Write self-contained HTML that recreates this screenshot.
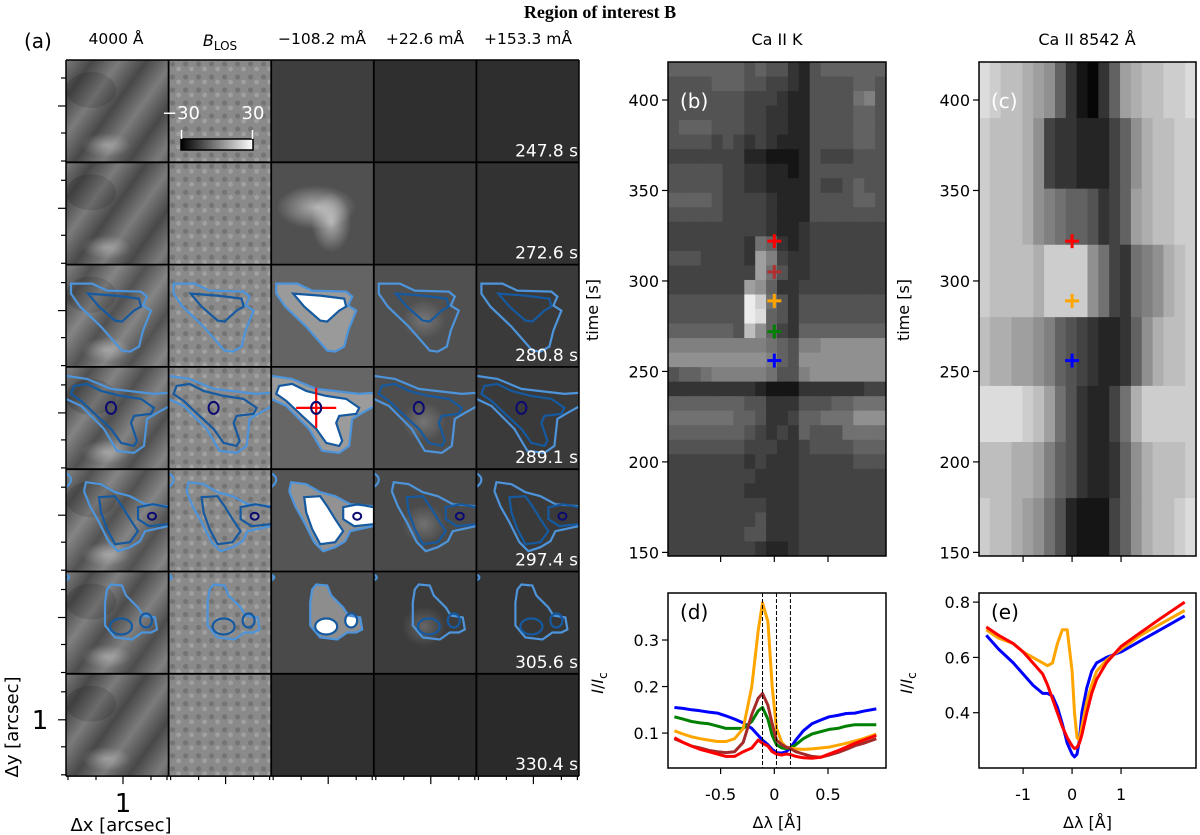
<!DOCTYPE html>
<html><head><meta charset="utf-8">
<style>
html,body{margin:0;padding:0;background:#fff;}
svg{display:block;font-family:"DejaVu Sans","Liberation Sans",sans-serif;}
</style></head>
<body>
<svg id="fig" width="1200" height="835" viewBox="0 0 1200 835" xmlns="http://www.w3.org/2000/svg">
<defs>
  <linearGradient id="gran" x1="0" y1="0" x2="0.35" y2="0.25" spreadMethod="repeat">
    <stop offset="0" stop-color="#fff" stop-opacity="0.2"/>
    <stop offset="0.5" stop-color="#000" stop-opacity="0.2"/>
    <stop offset="1" stop-color="#fff" stop-opacity="0.2"/>
  </linearGradient>
  <pattern id="speck" width="13" height="13" patternUnits="userSpaceOnUse">
    <rect width="13" height="13" fill="#8a8a8a"/>
    <circle cx="4" cy="4" r="2.6" fill="#747474"/>
    <circle cx="10" cy="9" r="2.4" fill="#a0a0a0"/>
  </pattern>
  <radialGradient id="glow" cx="0.5" cy="0.5" r="0.5">
    <stop offset="0" stop-color="#fff" stop-opacity="0.55"/>
    <stop offset="1" stop-color="#fff" stop-opacity="0"/>
  </radialGradient>
  <linearGradient id="cbar" x1="0" x2="1" y1="0" y2="0">
    <stop offset="0" stop-color="#000"/><stop offset="1" stop-color="#fff"/>
  </linearGradient>
</defs>
<text x="600" y="18" text-anchor="middle" font-family="Liberation Serif,serif" font-weight="bold" font-size="18">Region of interest B</text>
<g id="panelA"></g>
<g id="panelB"></g>
<g id="panelC"></g>
<g id="panelD"></g>
<g id="panelE"></g>
</svg>
<script>
// ---------- data ----------
const bRows = [
"66666665655325666666","55556665544325555665","55555554443225555785","55555554433225555665",
"56665554433225555665","55554543432225555665","44444442211125444555","55555443322125555555",
"55555443322225445655","66665444432225555665","55555444432225555555","44444444432234444444",
"44444443763234444444","55544443a84334444444","44444444a75334444444","4444444a963344444444",
"5555555fd75355555555","5555555fe65355555555","6666665c964366666666","88888888876588999999",
"99999999986599999999","56678888875589999999","33333333211133333344","66666665533355566777",
"77777766533466777999","66666665434365557777","55555554443345555666","44444443433344444555",
"44444444333344444444","44444443333344444444","44444444433344444444","44444444533344444444",
"44444445533344444444","44444444322344444444"];
const bTimeTop = 421, bTimeBottom = 148;
const cEdges = [421,390,351,320,280,242,211,180,148];
const cRows = ["edccba9631036abccdde","dcccb9433222469bccdd","dcccb987665346abccdd","dccccbdddd9743789bcd",
"cbbaa98654322369bccd","eeeedca7532247bddddd","cccbba865322369bcccd","dccba9752111469bccde"];
const bMarkTimes = [322,305,289,272,256];
const bMarkColors = ["red","#b03030","orange","green","blue"];
const cMarkTimes = [322,289,256];
const cMarkColors = ["red","orange","blue"];
const dX = [-0.93,-0.85,-0.77,-0.69,-0.61,-0.53,-0.45,-0.37,-0.29,-0.21,-0.15,-0.11,-0.06,-0.02,0.02,0.07,0.11,0.15,0.2,0.27,0.35,0.43,0.51,0.59,0.67,0.75,0.83,0.95];
const dBlue = [0.155,0.153,0.150,0.148,0.145,0.143,0.137,0.130,0.122,0.11,0.095,0.085,0.075,0.065,0.058,0.057,0.06,0.068,0.085,0.105,0.12,0.128,0.135,0.138,0.142,0.143,0.147,0.152];
const dGreen = [0.135,0.13,0.125,0.122,0.12,0.115,0.11,0.11,0.11,0.125,0.148,0.155,0.13,0.095,0.075,0.068,0.067,0.068,0.075,0.088,0.098,0.103,0.108,0.11,0.115,0.118,0.118,0.118];
const dOrange = [0.105,0.098,0.092,0.088,0.085,0.082,0.082,0.088,0.11,0.2,0.32,0.38,0.34,0.2,0.11,0.08,0.07,0.068,0.066,0.065,0.066,0.068,0.07,0.074,0.078,0.083,0.088,0.098];
const dBrown = [0.088,0.08,0.072,0.068,0.063,0.06,0.058,0.06,0.08,0.14,0.175,0.185,0.16,0.12,0.085,0.075,0.07,0.067,0.06,0.055,0.05,0.048,0.053,0.058,0.065,0.073,0.078,0.088];
const dRed = [0.09,0.08,0.072,0.065,0.06,0.055,0.05,0.05,0.06,0.068,0.085,0.078,0.072,0.06,0.055,0.053,0.055,0.054,0.05,0.047,0.046,0.048,0.055,0.062,0.07,0.078,0.085,0.095];
const dLines = [-0.11,0.02,0.15];
const dXTicks = [-0.5,0,0.5], dXTickLabels = ["-0.5","0","0.5"];
const dYTicks = [0.1,0.2,0.3], dYTickLabels = ["0.1","0.2","0.3"];
const eX = [-1.75,-1.5,-1.2,-1.0,-0.8,-0.6,-0.5,-0.4,-0.3,-0.2,-0.1,0,0.05,0.1,0.15,0.2,0.3,0.4,0.5,0.7,1.0,1.4,1.8,2.3];
const eBlue = [0.68,0.63,0.58,0.54,0.50,0.47,0.47,0.46,0.42,0.36,0.29,0.25,0.24,0.25,0.30,0.40,0.49,0.55,0.58,0.60,0.62,0.66,0.70,0.75];
const eOrange = [0.70,0.67,0.65,0.62,0.60,0.58,0.57,0.58,0.65,0.70,0.70,0.55,0.40,0.31,0.30,0.35,0.44,0.50,0.55,0.59,0.63,0.68,0.72,0.77];
const eRed = [0.71,0.68,0.65,0.62,0.58,0.54,0.50,0.45,0.40,0.35,0.31,0.28,0.27,0.275,0.29,0.32,0.40,0.47,0.52,0.58,0.64,0.69,0.74,0.80];
const eXTicks = [-1,0,1], eXTickLabels = ["-1","0","1"];
const eYTicks = [0.4,0.6,0.8], eYTickLabels = ["0.4","0.6","0.8"];
const timeTicks = [150,200,250,300,350,400];
const bXTicks = [-0.5,0,0.5];
const cXTicks = [-1,0,1];
const aHeaders = ["4000 Å","B","−108.2 mÅ","+22.6 mÅ","+153.3 mÅ"];
const aTimes = ["247.8 s","272.6 s","280.8 s","289.1 s","297.4 s","305.6 s","330.4 s"];

// ---------- helpers ----------
const NS="http://www.w3.org/2000/svg";
function mk(parent,tag,attrs,text){const e=document.createElementNS(NS,tag);for(const k in attrs)e.setAttribute(k,attrs[k]);if(text!==undefined)e.textContent=text;parent.appendChild(e);return e;}
function lin(d0,d1,p0,p1){return v=>p0+(v-d0)/(d1-d0)*(p1-p0);}
function grey(ch){const v=Math.round(parseInt(ch,16)*17*0.9+6);return `rgb(${v},${v},${v})`;}

// ---------- panel A ----------
const A=document.getElementById('panelA');
const ax0=66, ay0=60, cw=102.6, rh=102.3;
const colBase=[["#5a5a5a","#8a8a8a","#3e3e3e","#2f2f2f","#2e2e2e"],
["#5a5a5a","#8a8a8a","#505050","#383838","#323232"],
["#666666","#8a8a8a","#646464","#505050","#3a3a3a"],
["#646464","#8a8a8a","#666666","#4e4e4e","#3a3a3a"],
["#666666","#8a8a8a","#555555","#4a4a4a","#3a3a3a"],
["#606060","#8a8a8a","#4a4a4a","#3c3c3c","#363636"],
["#5a5a5a","#8a8a8a","#303030","#2a2a2a","#2a2a2a"]];
const outer={2:"M5,19 L26,19 L41,26 L75,27 L81,32 L77,41 L85,46 L77,66 L73,82 L64,87 L56,86 L35,62 L14,42 L5,29 Z",
3:"M0,9 L21,12 L45,22 L88,27 L102,26 M102,40 L91,46 L81,52 L78,79 L68,86 L51,84 L38,62 L15,39 L0,32",
4:"M18,22 L20,13 L35,15 L49,23 L64,27 L79,35 L102,37 M102,57 L79,62 L74,72 L64,78 L52,82 L43,73 L33,53 L24,37 L18,22 M0,4 Q10,10 0,18",
5:"M45,13 L56,14 L60,24 L72,36 L77,44 L89,46 L91,58 L85,61 L76,61 L66,68 L49,66 L39,54 L39,31 L41,18 Z M0,3 Q6,6 0,9"};
const outerFill={2:outer[2],
3:"M0,9 L21,12 L45,22 L88,27 L102,26 L102,40 L91,46 L81,52 L78,79 L68,86 L51,84 L38,62 L15,39 L0,32 Z",
4:"M18,22 L20,13 L35,15 L49,23 L64,27 L79,35 L102,37 L102,57 L79,62 L74,72 L64,78 L52,82 L43,73 L33,53 L24,37 Z",
5:outer[5]};
const inner={2:"M22,29 L49,31 L73,34 L75,42 L68,46 L56,57 L49,56 L33,42 Z",
3:"M8,19 L21,17 L35,24 L55,29 L75,32 L88,41 L85,47 L68,49 L65,56 L71,74 L68,79 L55,76 L45,62 L31,49 L15,34 L5,27 Z",
4:"M33,28 L49,27 L56,37 L64,50 L72,62 L64,73 L49,75 L41,60 L35,43 Z M102,38 L87,35 L72,38 L72,50 L83,57 L102,55",
5:"M44,55 A11,8 0 1,0 66,55 A11,8 0 1,0 44,55 Z M74,49 A6,7 0 1,0 86,49 A6,7 0 1,0 74,49 Z"};
const navy={3:[45,41,5,6],4:[86,47,4,3.5]};
for(let r=0;r<7;r++){
  for(let c=0;c<5;c++){
    const x=ax0+c*cw, y=ay0+r*rh;
    const g=mk(A,'g',{transform:`translate(${x},${y})`});
    
    
    mk(g,'rect',{x:0,y:0,width:cw,height:rh,fill:colBase[r][c]});
    if(c===0){mk(g,'rect',{x:0,y:0,width:cw,height:rh,fill:"url(#gran)"});
      mk(g,'ellipse',{cx:25,cy:30,rx:25,ry:18,fill:"#000",opacity:0.12});
      mk(g,'ellipse',{cx:40,cy:85,rx:25,ry:12,fill:"url(#glow)",opacity:0.6});}
    if(c===1) mk(g,'rect',{x:0,y:0,width:cw,height:rh,fill:"url(#speck)"});
    if(c===2 && r===1){mk(g,'ellipse',{cx:45,cy:45,rx:40,ry:22,fill:"url(#glow)"});mk(g,'ellipse',{cx:60,cy:60,rx:20,ry:30,fill:"url(#glow)"});}
    if(c===2 && r>=2 && r<=5){
      mk(g,'path',{d:outerFill[r],fill:"#cfcfcf",opacity:0.5});
      mk(g,'path',{d:inner[r],fill:"#ffffff"});
    }
    if(c===3 && r>=2 && r<=5) mk(g,'ellipse',{cx:50,cy:55,rx:22,ry:20,fill:"url(#glow)",opacity:0.4});
    if(outer[r]) mk(g,'path',{d:outer[r],fill:"none",stroke:"#4d94db","stroke-width":2.2});
    if(inner[r]) mk(g,'path',{d:inner[r],fill:"none",stroke:"#155aa0","stroke-width":2.2});
    if(navy[r]) mk(g,'ellipse',{cx:navy[r][0],cy:navy[r][1],rx:navy[r][2],ry:navy[r][3],fill:"none",stroke:"#0a0a70","stroke-width":2});
    if(r===3&&c===2){
      const cr=mk(g,'g',{});
      mk(cr,'line',{x1:25,y1:41,x2:65,y2:41,stroke:"red","stroke-width":2.2});
      mk(cr,'line',{x1:45,y1:21,x2:45,y2:61,stroke:"red","stroke-width":2.2});
      mk(cr,'ellipse',{cx:45,cy:41,rx:5,ry:6,fill:"none",stroke:"#0a0a70","stroke-width":2});
    }
  }
  const t=mk(A,'text',{x:578,y:ay0+(r+1)*rh-6,"text-anchor":"end","font-size":17,fill:"#fff"},aTimes[r]);
  
  
}
for(let c=0;c<=5;c++) mk(A,'line',{x1:ax0+c*cw,y1:ay0,x2:ax0+c*cw,y2:ay0+7*rh,stroke:"#000","stroke-width":c%5===0?1.5:1.8});
for(let r=0;r<=7;r++) mk(A,'line',{x1:ax0,y1:ay0+r*rh,x2:ax0+5*cw,y2:ay0+r*rh,stroke:"#000","stroke-width":r%7===0?1.5:1.8});
const cb=mk(A,'g',{});
mk(cb,'rect',{x:181,y:139,width:72,height:11,fill:"url(#cbar)",stroke:"#000","stroke-width":1.5});
mk(cb,'line',{x1:181.5,y1:130,x2:181.5,y2:139,stroke:"#fff","stroke-width":1.5});
mk(cb,'line',{x1:252.5,y1:130,x2:252.5,y2:139,stroke:"#fff","stroke-width":1.5});
mk(cb,'text',{x:181,y:119,"text-anchor":"middle","font-size":18,fill:"#fff"},"−30");
mk(cb,'text',{x:253,y:119,"text-anchor":"middle","font-size":18,fill:"#fff"},"30");
mk(A,'text',{x:24,y:48,"font-size":20},"(a)");
const hx=[116,220,322,425,528];
aHeaders.forEach((h,i)=>{
  let t;
  if(i===1){t=mk(A,'text',{x:hx[i],y:46,"text-anchor":"middle","font-size":16});
    mk(t,'tspan',{"font-style":"italic"},"B");mk(t,'tspan',{"font-size":12,dy:4},"LOS");}
  else t=mk(A,'text',{x:hx[i],y:44,"text-anchor":"middle","font-size":15.5},h);
  
  
});
for(let r=0;r<7;r++){const y0=ay0+r*rh;[18,46,73,101].forEach(o=>{const L=o===46?8:5;mk(A,'line',{x1:ax0-L,y1:y0+o,x2:ax0,y2:y0+o,stroke:"#000","stroke-width":1.2});});}
for(let c=0;c<5;c++){const x0=ax0+c*cw;[2,30,57,85,101].forEach(o=>{const L=o===57?8:4;mk(A,'line',{x1:x0+o,y1:ay0+7*rh,x2:x0+o,y2:ay0+7*rh+L,stroke:"#000","stroke-width":1.2});});}
mk(A,'text',{x:40,y:729,"text-anchor":"middle","font-size":26},"1");
mk(A,'text',{x:123,y:812,"text-anchor":"middle","font-size":26},"1");
mk(A,'text',{x:121,y:831,"text-anchor":"middle","font-size":18},"Δx [arcsec]");
mk(A,'text',{x:0,y:0,"text-anchor":"middle","font-size":18,transform:"translate(18,727) rotate(-90)"},"Δy [arcsec]");

// ---------- heatmap panels ----------
function timeAxis(G,x0,y0,x1,y1,tmin,tmax,labelX){
  const ty=lin(tmin,tmax,y1,y0);
  timeTicks.forEach(t=>{const y=ty(t);mk(G,'line',{x1:x0-6,y1:y,x2:x0,y2:y,stroke:"#000","stroke-width":1.2});
    const tl=mk(G,'text',{x:x0-9,y:y+6,"text-anchor":"end","font-size":16},String(t));
    });
  const yt=mk(G,'text',{x:0,y:0,"text-anchor":"middle","font-size":16,transform:`translate(${labelX},310) rotate(-90)`},"time [s]");
  
  return ty;
}
function plus(G,x,y,col){
  const g=mk(G,'g',{});
  
  
  mk(g,'line',{x1:x-7,y1:y,x2:x+7,y2:y,stroke:col,"stroke-width":3});
  mk(g,'line',{x1:x,y1:y-7,x2:x,y2:y+7,stroke:col,"stroke-width":3});
}
(function(){
  const G=document.getElementById('panelB');
  const x0=668,x1=886,y0=62,y1=556;
  const sx=lin(-0.99,1.04,x0,x1);
  const ty=timeAxis(G,x0,y0,x1,y1,148,421,598);
  const nR=bRows.length, nC=bRows[0].length;
  const dt=(bTimeTop-bTimeBottom)/nR, cwB=(x1-x0)/nC;
  bRows.forEach((row,i)=>{for(let j=0;j<nC;j++){
    const yTop=ty(bTimeTop-i*dt), yBot=ty(bTimeTop-(i+1)*dt);
    const cell=mk(G,'rect',{x:x0+j*cwB,y:yTop,width:cwB+0.5,height:yBot-yTop+0.5,fill:grey(row[j])});
    
    
  }});
  mk(G,'rect',{x:x0,y:y0,width:x1-x0,height:y1-y0,fill:"none",stroke:"#000","stroke-width":1.5});
  bXTicks.forEach(v=>mk(G,'line',{x1:sx(v),y1:y1,x2:sx(v),y2:y1+6,stroke:"#000","stroke-width":1.2}));
  bMarkTimes.forEach((t,i)=>plus(G,sx(0),ty(t),bMarkColors[i]));
  mk(G,'text',{x:680,y:108,"font-size":20,fill:"#fff"},"(b)");
  mk(G,'text',{x:777,y:45,"text-anchor":"middle","font-size":16},"Ca II K");
})();
(function(){
  const G=document.getElementById('panelC');
  const x0=979,x1=1196,y0=62,y1=556;
  const sx=lin(-1.9,2.53,x0,x1);
  const ty=timeAxis(G,x0,y0,x1,y1,148,421,909);
  const nC=cRows[0].length, cwC=(x1-x0)/nC;
  cRows.forEach((row,i)=>{for(let j=0;j<nC;j++){
    const yTop=ty(cEdges[i]), yBot=ty(cEdges[i+1]);
    const cell=mk(G,'rect',{x:x0+j*cwC,y:yTop,width:cwC+0.5,height:yBot-yTop+0.5,fill:grey(row[j])});
    
    
  }});
  mk(G,'rect',{x:x0,y:y0,width:x1-x0,height:y1-y0,fill:"none",stroke:"#000","stroke-width":1.5});
  cXTicks.forEach(v=>mk(G,'line',{x1:sx(v),y1:y1,x2:sx(v),y2:y1+6,stroke:"#000","stroke-width":1.2}));
  cMarkTimes.forEach((t,i)=>plus(G,sx(0),ty(t),cMarkColors[i]));
  mk(G,'text',{x:991,y:108,"font-size":20,fill:"#fff"},"(c)");
  mk(G,'text',{x:1087,y:45,"text-anchor":"middle","font-size":16},"Ca II 8542 Å");
})();

// ---------- line panels ----------
function linePanel(G,x0,x1,y0,y1,xd,yd,xT,xTL,yT,yTL,series,cols,label,ylabX){
  const sx=lin(xd[0],xd[1],x0,x1), sy=lin(yd[0],yd[1],y1,y0);
  const clip='clip'+label;
  const cp=mk(G,'clipPath',{id:clip});mk(cp,'rect',{x:x0,y:y0,width:x1-x0,height:y1-y0});
  series.forEach((s,k)=>{
    const pts=s.y.map((v,i)=>sx(s.x[i]).toFixed(1)+','+sy(v).toFixed(1)).join(' ');
    const pl=mk(G,'polyline',{points:pts,fill:"none",stroke:cols[k],"stroke-width":3,"stroke-linejoin":"round","clip-path":`url(#${clip})`});
    
    
  });
  mk(G,'rect',{x:x0,y:y0,width:x1-x0,height:y1-y0,fill:"none",stroke:"#000","stroke-width":1.5});
  xT.forEach((v,i)=>{mk(G,'line',{x1:sx(v),y1:y1,x2:sx(v),y2:y1+6,stroke:"#000","stroke-width":1.2});
    const t=mk(G,'text',{x:sx(v),y:800,"text-anchor":"middle","font-size":16},xTL[i]);
    });
  yT.forEach((v,i)=>{mk(G,'line',{x1:x0-6,y1:sy(v),x2:x0,y2:sy(v),stroke:"#000","stroke-width":1.2});
    const t=mk(G,'text',{x:x0-9,y:sy(v)+6,"text-anchor":"end","font-size":16},yTL[i]);
    });
  const xt=mk(G,'text',{x:(x0+x1)/2,y:828,"text-anchor":"middle","font-size":16},"Δλ [Å]");
  
  const yl=mk(G,'text',{x:0,y:0,"text-anchor":"middle","font-size":16,transform:`translate(${ylabX},683) rotate(-90)`});
  mk(yl,'tspan',{"font-style":"italic"},"I");mk(yl,'tspan',{},"/");mk(yl,'tspan',{"font-style":"italic"},"I");mk(yl,'tspan',{"font-size":12,dy:4},"c");
  
  const pl=mk(G,'text',{x:x0+12,y:619,"font-size":20},"("+label+")");
  
  return {sx,sy};
}
(function(){
  const G=document.getElementById('panelD');
  const r=linePanel(G,668,886,593,768,[-0.99,1.04],[0.025,0.401],dXTicks,dXTickLabels,dYTicks,dYTickLabels,
   [{name:'blue',x:dX,y:dBlue},{name:'green',x:dX,y:dGreen},{name:'orange',x:dX,y:dOrange},{name:'brown',x:dX,y:dBrown},{name:'red',x:dX,y:dRed}],
   ["blue","green","orange","#a52a2a","red"],'d',603);
  dLines.forEach(v=>{const l=mk(G,'line',{x1:r.sx(v),y1:593,x2:r.sx(v),y2:768,stroke:"#000","stroke-width":1,"stroke-dasharray":"4,2"});
    });
})();
(function(){
  const G=document.getElementById('panelE');
  linePanel(G,979,1196,593,768,[-1.9,2.53],[0.2,0.833],eXTicks,eXTickLabels,eYTicks,eYTickLabels,
   [{name:'blue',x:eX,y:eBlue},{name:'orange',x:eX,y:eOrange},{name:'red',x:eX,y:eRed}],
   ["blue","orange","red"],'e',912);
})();
</script>
</body></html>
